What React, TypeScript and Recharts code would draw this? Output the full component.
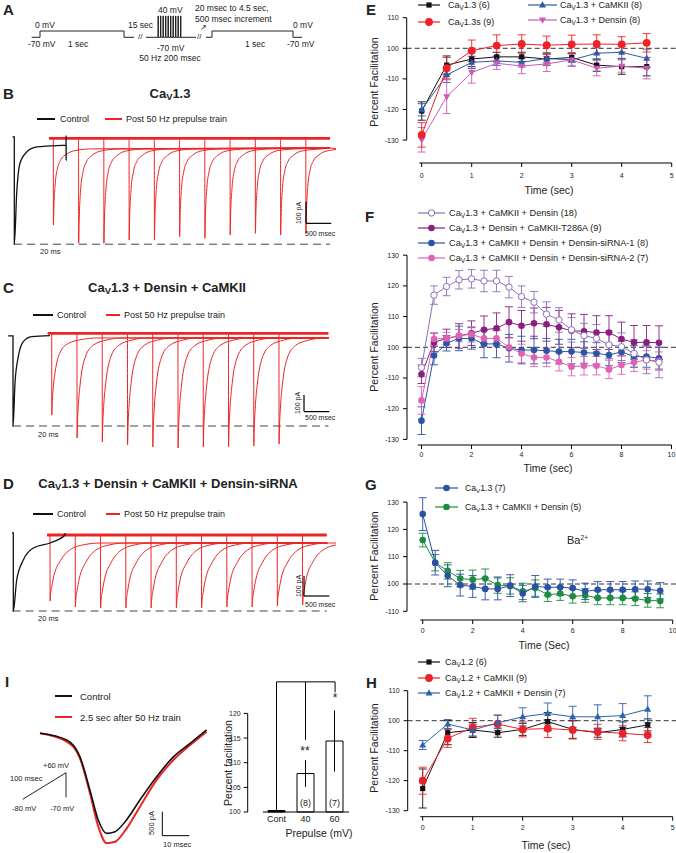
import React from "react";
import { LineChart, Line, XAxis, YAxis, ReferenceLine, ErrorBar, BarChart, Bar, Cell, LabelList } from "recharts";

const FONT = '"Liberation Sans", Arial, Helvetica, sans-serif';
const RED = "#ee2424";

// ---------- A: protocol (schematic units; level 0 = -70 mV, 1 = 0 mV, pulses = 40 mV)
const protoStepX = [0, 8.3, 8.3, 92.3, 92.3, 102.3];
const protoStepLvl = [0, 0, 1, 1, 0, 0];
const protoTrainX = [114.3, 164.3];
const protoPulses = [126.3, 128.8, 131.3, 133.8, 136.3, 138.8, 141.3, 143.8, 146.3, 148.8];
const protoPulseLvl = 3.38;
const protoTestX = [174.3, 180.3, 180.3, 261.3, 261.3, 270.3];
const protoTestLvl = [0, 0, 1, 1, 0, 0];

// ---------- B-D: current traces (ms, pA)
const onsetsB = [20, 520, 1020, 1520, 2020, 2520, 3020, 3520, 4020, 4520, 5020];
const peaksB = [-400, -484, -484, -469, -469, -453, -461, -446, -438, -446, -438];
const recTB = [10, 40, 85, 150, 260, 450, 800];
const recFB = [0.8, 0.45, 0.26, 0.15, 0.08, 0.03, 0.01];
const ctlTB = [-0.7, 0, 0.01, 0.92, 2.19, 4.77, 8.6, 13.7, 19.9, 19.92, 19.94, 19.96];
const ctlIB = [7, 7, -488, -253, -115, -63, -40, -35, -31, 12, -100, -31];

const onsetsC = [20, 520, 1020, 1520, 2020, 2520, 3020, 3520, 4020, 4520];
const peaksC = [-490, -627, -651, -669, -681, -687, -681, -681, -675, -663];
const recTC = [10, 30, 66, 165, 330, 593, 900];
const recFC = [0.85, 0.65, 0.45, 0.19, 0.07, 0.02, 0];
const ctlTC = [-1.9, 0, 0.01, 0.77, 2.04, 3.96, 7.2, 14.2];
const ctlIC = [-16, -16, -555, -297, -140, -50, -20, -14];

const onsetsD = [20, 520, 1020, 1520, 2020, 2520, 3020, 3520, 4020, 4520, 5020];
const peaksD = [-330, -360, -365, -365, -365, -365, -365, -360, -360, -355, -350];
const recTD = [10, 35, 79, 211, 409, 672, 1000];
const recFD = [0.9, 0.75, 0.56, 0.3, 0.11, 0.03, 0];
const ctlTD = [-0.5, 0, 0.01, 1.3, 3.85, 7.7, 14.1, 19.9, 19.95];
const ctlID = [10, 10, -380, -225, -125, -65, -40, 0, 10];

// ---------- I: ramp currents (ms, pA) and ramp protocol (ms, mV)
const rampCurT = [0, 9.9, 14.8, 18.5, 21.6, 24.7, 27.8, 32.1, 37, 43.2, 49.4, 55.6, 61.7];
const rampCtl = [0, -140, -488, -1185, -1810, -2085, -2050, -1800, -1390, -905, -490, -210, 70];
const rampPost = [0, -175, -520, -1245, -1945, -2290, -2260, -1980, -1530, -970, -555, -245, 35];
const rampProtoT = [0, 100, 100];
const rampProtoV = [-80, 60, -70];

const prepulseCats = ["Cont", "40", "60"];
const prepulseVals = [100.3, 107.8, 114.4];
const prepulseErr = [0, 2.7, 6.2];
const prepulseN = ["", "(8)", "(7)"];

// ---------- E-H: percent facilitation vs time
const T5 = [0, 0.5, 1, 1.5, 2, 2.5, 3, 3.5, 4, 4.5];
const T10 = [0, 0.5, 1, 1.5, 2, 2.5, 3, 3.5, 4, 4.5, 5, 5.5, 6, 6.5, 7, 7.5, 8, 8.5, 9, 9.5];

const eCav13 = [79.5, 94.5, 96.5, 97.2, 97.2, 96.5, 97, 94.5, 94, 94];
const eCav13Err = [3, 3, 2.5, 1.5, 1.5, 2, 1.5, 2, 2.5, 3];
const eCav13s = [71.7, 93.5, 99.2, 100.9, 101.4, 101, 101.3, 101.4, 101.3, 101.8];
const eCav13sErr = [4, 3.5, 3.5, 3.5, 3, 3, 3, 3, 2.5, 3];
const eCamk = [79.9, 91.3, 95.4, 95.9, 95.4, 96.7, 96.2, 98.4, 98.7, 96.7];
const eCamkErr = [2, 2.5, 2, 1.5, 1.5, 1.5, 2, 2, 2, 3];
const eDensin = [70.1, 84.2, 92.1, 95.1, 94.2, 94.9, 96.2, 93.5, 94.2, 93.5];
const eDensinErr = [4, 5.5, 3.5, 2, 2.5, 2.5, 2, 2.5, 2, 3.5];

const fOpen = [93.4, 117, 119.8, 122, 122.3, 121.6, 121.6, 119.6, 116.5, 114.7, 110.8, 108.9, 105.7, 103.8, 102.9, 100.8, 100.2, 98, 95.9, 95.1];
const fOpenErr = [3, 3, 3, 3, 3, 3.5, 3.5, 3.5, 3.5, 3.5, 4, 4, 4, 4, 4.5, 4.5, 4.5, 4.5, 4.5, 5];
const fT286A = [91.2, 101.6, 102.9, 103.7, 104.6, 105.7, 106.2, 108.2, 107, 107.8, 107.5, 106.5, 105.4, 105.2, 104.8, 104.8, 102.7, 101.6, 101.6, 101.5];
const fT286AErr = [3, 3, 3, 4, 4, 4.5, 5, 5, 5, 5, 5.5, 5.5, 5.5, 5.5, 5.5, 5.5, 5.5, 5.5, 5.5, 5.5];
const fSi1 = [76.1, 97.3, 101.3, 102.9, 102.9, 101.1, 101.1, 99.7, 99.1, 99.1, 98.9, 98.6, 98.6, 98.3, 98, 97.5, 98.5, 97, 97, 96.4];
const fSi1Err = [4.5, 3, 2.5, 4, 3.5, 4.5, 4.5, 4.5, 4.5, 4.5, 4, 4, 4, 3.5, 3.5, 3.5, 3.5, 3.5, 3.5, 3.5];
const fSi2 = [82.7, 102.7, 102.9, 103.8, 104.2, 102.9, 102.9, 100, 98, 96.7, 96.7, 95.3, 93.7, 94, 94, 92.8, 94.2, 95.1, 95.9, 95.5];
const fSi2Err = [4.5, 2, 2, 2, 2.5, 2.5, 2.5, 3, 3, 3, 3, 3, 3, 3, 3, 3, 3, 3, 3, 3];

const gCav13 = [125.6, 107.8, 103, 99.6, 99.1, 98.2, 98.2, 99.4, 96.5, 99.1, 98.8, 98.8, 98.5, 97.3, 97.9, 97.9, 97.9, 98.1, 98.1, 97.5];
const gCav13Err = [6, 4.5, 4, 4, 4, 4, 4, 4, 3, 4, 3, 3, 3, 3, 3, 3, 3, 3, 3, 3];
const gDensin = [116.1, 107.8, 104.8, 102, 101.6, 102, 99.6, 99.3, 97.3, 98.5, 96.1, 96.5, 95.5, 95.8, 94.9, 94.9, 94.9, 94.6, 94, 93.8];
const gDensinErr = [2.5, 3, 3, 3, 3.5, 3.5, 3, 3, 3, 3, 2.5, 2.5, 2.5, 2.5, 2.5, 2.5, 2.5, 2.5, 2.5, 2.5];

const hCav12 = [77.4, 96, 96.9, 96, 97.1, 99.7, 97.1, 96, 97.1, 98.6];
const hCav12Err = [6.5, 4, 2.5, 1.5, 2, 3, 3, 1.5, 2.5, 2];
const hCamk = [80, 94.1, 97.8, 98.9, 97.1, 97.4, 96.9, 96.3, 95.8, 95.2];
const hCamkErr = [4.5, 3, 3, 3, 2.5, 3, 3, 2.5, 2.5, 2.5];
const hDensin = [91.9, 98.9, 96.9, 99.3, 101.3, 102.4, 101.3, 101.3, 101.7, 103.8];
const hDensinErr = [1.5, 1.5, 2, 2.5, 3, 3.5, 3.5, 4, 4, 4.5];

// domain that puts `val` at pixel `at` of a box [lo, lo+len], k px per unit
const span = (lo: number, len: number, at: number, val: number, k: number): [number, number] => [
  val - (at - lo) / k,
  val + (lo + len - at) / k,
];
// same for a vertical axis (pixels grow downward)
const spanY = (top: number, len: number, at: number, val: number, k: number): [number, number] => [
  val - (top + len - at) / k,
  val + (at - top) / k,
];

const facTick = (v: number) => (v < 100 ? `-${200 - v}` : `${v}`);

type Shape = "square" | "circle" | "open" | "tri" | "triDown" | "dot";

function Mark({ shape, cx, cy, color }: { shape?: Shape; cx: number; cy: number; color: string }) {
  if (cx == null || cy == null || !shape) return null;
  if (shape === "square") return <rect x={cx - 2.6} y={cy - 2.6} width={5.2} height={5.2} fill={color} />;
  if (shape === "tri")
    return <polygon points={`${cx},${cy - 3.8} ${cx - 3.5},${cy + 2.4} ${cx + 3.5},${cy + 2.4}`} fill={color} />;
  if (shape === "triDown")
    return <polygon points={`${cx},${cy + 3.8} ${cx - 3.5},${cy - 2.4} ${cx + 3.5},${cy - 2.4}`} fill={color} />;
  if (shape === "open") return <circle cx={cx} cy={cy} r={3.2} fill="#fff" stroke={color} strokeWidth={1} />;
  return <circle cx={cx} cy={cy} r={shape === "circle" ? 3.9 : 3.3} fill={color} />;
}

function T({ x, y, s = 9, b, a = "start", r, children }: any) {
  const tx = a === "middle" ? "-50%" : a === "end" ? "-100%" : "0";
  return (
    <div
      style={{
        position: "absolute",
        left: x,
        top: y,
        fontSize: s,
        fontWeight: b ? 700 : 400,
        whiteSpace: "nowrap",
        lineHeight: 1,
        transform: r ? `translate(-50%,-50%) rotate(${r}deg)` : `translate(${tx},-50%)`,
      }}
    >
      {children}
    </div>
  );
}

const V = () => <span style={{ fontSize: "0.72em", verticalAlign: "-0.3em", lineHeight: 0 }}>V</span>;

function Key({ x, y, color, shape, w = 24, gap = 6, s = 9, lw = 1.2, children }: any) {
  return (
    <div style={{ position: "absolute", left: x, top: y - 7, height: 14, display: "flex", alignItems: "center", fontSize: s, whiteSpace: "nowrap" }}>
      <svg width={w} height={14} style={{ marginRight: gap, flex: "none" }}>
        <line x1={0} x2={w} y1={7} y2={7} stroke={color} strokeWidth={lw} />
        <Mark shape={shape} cx={w / 2} cy={7} color={color} />
      </svg>
      <span>{children}</span>
    </div>
  );
}

function sweeps(onsets: number[], peaks: number[], steady: number, recT: number[], recF: number[], t0: number, t1: number) {
  return onsets.map((on, k) => {
    const pk = peaks[k];
    return [
      { t: t0, i: 0 },
      { t: on, i: 0 },
      { t: on + 2, i: pk },
      ...recT.map((d, j) => ({ t: on + d, i: steady + (pk - steady) * recF[j] })),
      { t: t1, i: steady },
    ];
  });
}

function TracePanel({ c }: { c: any }) {
  const W = 336;
  const xMain = span(0, W, c.spikePx, 20, 0.0505);
  const xCtl = span(0, W, c.ctlPx, 0, 2.6);
  const yPa = spanY(c.top, c.height, c.basePx, 0, c.kPa);
  const sw = sweeps(c.onsets, c.peaks, c.steady, c.recT, c.recF, c.t0, c.t1);
  const ctl = c.ctlT.map((t: number, k: number) => ({ t, i: c.ctlI[k] }));
  const band = [{ t: c.t0, i: 0 }, { t: c.t1, i: 0 }];
  return (
    <div style={{ position: "absolute", left: 0, top: c.top }}>
      <LineChart width={W} height={c.height} margin={{ top: 0, right: 0, bottom: 0, left: 0 }}>
        <XAxis xAxisId="main" type="number" dataKey="t" domain={xMain} hide allowDataOverflow />
        <XAxis xAxisId="ctl" type="number" dataKey="t" domain={xCtl} hide allowDataOverflow />
        <YAxis yAxisId="pa" type="number" domain={yPa} hide allowDataOverflow />
        <ReferenceLine xAxisId="main" yAxisId="pa" segment={[{ x: c.dashFrom, y: c.dash }, { x: c.t1, y: c.dash }]} stroke="#444" strokeDasharray="8 5" ifOverflow="visible" />
        <Line xAxisId="main" yAxisId="pa" data={band} dataKey="i" stroke={RED} strokeWidth={2.8} dot={false} activeDot={false} isAnimationActive={false} />
        {sw.map((d, k) => (
          <Line key={k} xAxisId="main" yAxisId="pa" data={d} dataKey="i" type="monotone" stroke={RED} strokeWidth={1} dot={false} activeDot={false} isAnimationActive={false} />
        ))}
        <Line xAxisId="ctl" yAxisId="pa" data={ctl} dataKey="i" type="monotone" stroke="#111" strokeWidth={1.3} dot={false} activeDot={false} isAnimationActive={false} />
        <ReferenceLine xAxisId="main" yAxisId="pa" segment={[{ x: c.barT, y: c.barI }, { x: c.barT, y: c.barI + 100 }]} stroke="#000" strokeWidth={1.2} ifOverflow="visible" />
        <ReferenceLine xAxisId="main" yAxisId="pa" segment={[{ x: c.barT, y: c.barI }, { x: c.barT + 500, y: c.barI }]} stroke="#000" strokeWidth={1.2} ifOverflow="visible" />
      </LineChart>
    </div>
  );
}

const traceB = {
  top: 128, height: 122, spikePx: 53.3, ctlPx: 14.3, basePx: 138.3, kPa: 0.217,
  onsets: onsetsB, peaks: peaksB, steady: -45, recT: recTB, recF: recFB, t0: -60, t1: 5500,
  ctlT: ctlTB, ctlI: ctlIB, dash: -488, dashFrom: -758, barT: 5024, barI: -392,
};
const traceC = {
  top: 322, height: 130, spikePx: 51.7, ctlPx: 13, basePx: 333.3, kPa: 0.167,
  onsets: onsetsC, peaks: peaksC, steady: -28, recT: recTC, recF: recFC, t0: -55, t1: 5500,
  ctlT: ctlTC, ctlI: ctlIC, dash: -555, dashFrom: -746, barT: 5016, barI: -469,
};
const traceD = {
  top: 525, height: 100, spikePx: 50, ctlPx: 13.3, basePx: 535, kPa: 0.2,
  onsets: onsetsD, peaks: peaksD, steady: -40, recT: recTD, recF: recFD, t0: -35, t1: 5500,
  ctlT: ctlTD, ctlI: ctlID, dash: -380, dashFrom: -720, barT: 5050, barI: -305,
};

function ProtocolA() {
  const step = protoStepX.map((x, k) => ({ x, v: protoStepLvl[k] }));
  const train = [
    { x: protoTrainX[0], v: 0 },
    ...protoPulses.flatMap((p) => [
      { x: p, v: 0 },
      { x: p, v: protoPulseLvl },
      { x: p + 0.4, v: protoPulseLvl },
      { x: p + 0.4, v: 0 },
    ]),
    { x: protoTrainX[1], v: 0 },
  ];
  const test = protoTestX.map((x, k) => ({ x, v: protoTestLvl[k] }));
  return (
    <div style={{ position: "absolute", left: 0, top: 0 }}>
      <LineChart width={330} height={60} margin={{ top: 0, right: 0, bottom: 0, left: 0 }}>
        <XAxis type="number" dataKey="x" domain={span(0, 330, 31.7, 0, 1)} hide allowDataOverflow />
        <YAxis type="number" domain={spanY(0, 60, 37.3, 0, 6.3)} hide allowDataOverflow />
        {[step, train, test].map((d, k) => (
          <Line key={k} data={d} dataKey="v" stroke="#222" strokeWidth={1} dot={false} activeDot={false} isAnimationActive={false} />
        ))}
      </LineChart>
    </div>
  );
}

function RampI() {
  const ctl = rampCurT.map((t, k) => ({ t, i: rampCtl[k] }));
  const post = rampCurT.map((t, k) => ({ t, i: rampPost[k] }));
  const proto = rampProtoT.map((t, k) => ({ t, v: rampProtoV[k] }));
  return (
    <div style={{ position: "absolute", left: 0, top: 690 }}>
      <LineChart width={230} height={163} margin={{ top: 0, right: 0, bottom: 0, left: 0 }}>
        <XAxis xAxisId="tr" type="number" dataKey="t" domain={span(0, 230, 40, 0, 2.7)} hide allowDataOverflow />
        <YAxis yAxisId="tr" type="number" domain={spanY(690, 163, 733.3, 0, 0.048)} hide allowDataOverflow />
        <XAxis xAxisId="rp" type="number" dataKey="t" domain={span(0, 230, 22.7, 0, 0.433)} hide allowDataOverflow />
        <YAxis yAxisId="rp" type="number" domain={spanY(690, 163, 799.3, -80, 0.19)} hide allowDataOverflow />
        <Line xAxisId="tr" yAxisId="tr" data={post} dataKey="i" type="monotone" stroke={RED} strokeWidth={2} dot={false} activeDot={false} isAnimationActive={false} />
        <Line xAxisId="tr" yAxisId="tr" data={ctl} dataKey="i" type="monotone" stroke="#111" strokeWidth={1.6} dot={false} activeDot={false} isAnimationActive={false} />
        <Line xAxisId="rp" yAxisId="rp" data={proto} dataKey="v" stroke="#222" strokeWidth={1} dot={false} activeDot={false} isAnimationActive={false} />
        <ReferenceLine xAxisId="tr" yAxisId="tr" segment={[{ x: 45.3, y: -1633 }, { x: 45.3, y: -2133 }]} stroke="#000" ifOverflow="visible" />
        <ReferenceLine xAxisId="tr" yAxisId="tr" segment={[{ x: 45.3, y: -2133 }, { x: 55.3, y: -2133 }]} stroke="#000" ifOverflow="visible" />
      </LineChart>
    </div>
  );
}

function BarsI() {
  const rows = prepulseCats.map((c, k) => ({ x: k, v: prepulseVals[k], e: prepulseErr[k], n: prepulseN[k] }));
  const xDom = span(247.7, 107.3, 276.5, 0, 29);
  const yDom = spanY(675, 137, 812, 100, 4.93);
  return (
    <div style={{ position: "absolute", left: 215, top: 675 }}>
      <BarChart width={140} height={178} data={rows} margin={{ top: 0, right: 0, bottom: 0, left: 0 }}>
        <XAxis type="number" dataKey="x" domain={xDom} ticks={[0, 1, 2]} interval={0} tickFormatter={(v: number) => prepulseCats[v]} axisLine={false} tickLine={false} tickSize={0} tickMargin={4} tick={{ fontSize: 9, fill: "#222", fontFamily: FONT }} height={41} />
        <YAxis type="number" domain={yDom} ticks={[100, 105, 110, 115, 120]} interval={0} axisLine={false} tickSize={4} tickMargin={3} tick={{ fontSize: 7, fill: "#222", fontFamily: FONT }} tickLine={{ stroke: "#000" }} width={32.7} />
        <ReferenceLine segment={[{ x: xDom[0], y: 100 }, { x: xDom[0], y: 120 }]} stroke="#000" ifOverflow="visible" />
        <ReferenceLine segment={[{ x: -0.47, y: 100 }, { x: 2.5, y: 100 }]} stroke="#000" ifOverflow="visible" />
        <ReferenceLine segment={[{ x: 0, y: 126.4 }, { x: 2.02, y: 126.4 }]} stroke="#000" ifOverflow="visible" />
        <ReferenceLine segment={[{ x: 0, y: 126.4 }, { x: 0, y: 100.4 }]} stroke="#000" ifOverflow="visible" />
        <ReferenceLine segment={[{ x: 1, y: 126.4 }, { x: 1, y: 114.6 }]} stroke="#000" ifOverflow="visible" />
        <ReferenceLine segment={[{ x: 2.02, y: 126.4 }, { x: 2.02, y: 124.3 }]} stroke="#000" ifOverflow="visible" />
        <Bar dataKey="v" barSize={17} fill="#fff" stroke="#000" strokeWidth={1} isAnimationActive={false}>
          {rows.map((r, k) => (
            <Cell key={k} fill={k === 0 ? "#000" : "#fff"} />
          ))}
          <ErrorBar dataKey="e" width={0} stroke="#000" strokeWidth={1} direction="y" />
          <LabelList dataKey="n" position="insideBottom" offset={6} style={{ fontSize: 9, fill: "#222", fontFamily: FONT }} />
        </Bar>
      </BarChart>
    </div>
  );
}

type Series = { key: string; values: number[]; err: number[]; color: string; shape: Shape };

function FacPanel({ p }: { p: any }) {
  const plotW = 676 - p.left;
  const plotH = p.bottom - p.top;
  const xDom = span(p.left, plotW, p.x0, 0, p.kx);
  const yDom = spanY(p.top, plotH, p.y100, 100, p.ky);
  const rows = p.times.map((t: number, k: number) => {
    const r: Record<string, number> = { t };
    p.series.forEach((s: Series) => {
      r[s.key] = s.values[k];
      r[s.key + "E"] = s.err[k];
    });
    return r;
  });
  const xEnd = p.xTicks[p.xTicks.length - 1];
  const tickStyle = { fontSize: 7, fill: "#222", fontFamily: FONT };
  return (
    <div style={{ position: "absolute", left: 330, top: p.top }}>
      <LineChart width={346} height={p.total} data={rows} margin={{ top: 0, right: 0, bottom: 0, left: 0 }}>
        <XAxis type="number" dataKey="t" domain={xDom} ticks={p.xTicks} interval={0} axisLine={false} tickSize={4} tickMargin={p.tm} tick={tickStyle} tickLine={{ stroke: "#000" }} height={p.total - plotH} />
        <YAxis type="number" domain={yDom} ticks={p.yTicks} interval={0} axisLine={false} tickSize={4} tickMargin={4} tickFormatter={facTick} tick={tickStyle} tickLine={{ stroke: "#000" }} width={p.left - 330} />
        <ReferenceLine y={100} stroke="#333" strokeDasharray="5 3" />
        <ReferenceLine segment={[{ x: xDom[0], y: p.yTicks[0] }, { x: xDom[0], y: p.yTicks[p.yTicks.length - 1] }]} stroke="#000" ifOverflow="visible" />
        <ReferenceLine segment={[{ x: p.xStart, y: yDom[0] }, { x: xEnd, y: yDom[0] }]} stroke="#000" ifOverflow="visible" />
        {p.series.map((s: Series) => (
          <Line
            key={s.key}
            dataKey={s.key}
            stroke={s.color}
            strokeWidth={1}
            isAnimationActive={false}
            activeDot={false}
            dot={(d: any) => <Mark key={`${s.key}-${d.index}`} shape={s.shape} cx={d.cx} cy={d.cy} color={s.color} />}
          >
            <ErrorBar dataKey={s.key + "E"} width={4} stroke={s.color} strokeWidth={0.9} direction="y" />
          </Line>
        ))}
      </LineChart>
    </div>
  );
}

const facE = {
  top: 10, bottom: 163, left: 406.7, total: 190, x0: 421.7, kx: 50, y100: 48.3, ky: 3.06, tm: 6, xStart: -0.05,
  xTicks: [0, 1, 2, 3, 4, 5], yTicks: [70, 80, 90, 100, 110], times: T5,
  series: [
    { key: "cav13", values: eCav13, err: eCav13Err, color: "#111", shape: "square" },
    { key: "camk", values: eCamk, err: eCamkErr, color: "#2d5aa8", shape: "tri" },
    { key: "densin", values: eDensin, err: eDensinErr, color: "#cc5ab8", shape: "triDown" },
    { key: "cav13s", values: eCav13s, err: eCav13sErr, color: "#ee2228", shape: "circle" },
  ],
};
const facF = {
  top: 250, bottom: 445, left: 407, total: 230, x0: 421.5, kx: 25, y100: 347.3, ky: 3.07, tm: 3, xStart: -0.15,
  xTicks: [0, 2, 4, 6, 8, 10], yTicks: [70, 80, 90, 100, 110, 120, 130], times: T10,
  series: [
    { key: "t286a", values: fT286A, err: fT286AErr, color: "#8b1f7e", shape: "dot" },
    { key: "si1", values: fSi1, err: fSi1Err, color: "#2b55a5", shape: "dot" },
    { key: "si2", values: fSi2, err: fSi2Err, color: "#df62b4", shape: "dot" },
    { key: "open", values: fOpen, err: fOpenErr, color: "#8a72b8", shape: "open" },
  ],
};
const facG = {
  top: 490, bottom: 620, left: 407, total: 165, x0: 422.7, kx: 25, y100: 584, ky: 2.73, tm: 4, xStart: -0.1,
  xTicks: [0, 2, 4, 6, 8, 10], yTicks: [90, 100, 110, 120, 130], times: T10,
  series: [
    { key: "gd", values: gDensin, err: gDensinErr, color: "#1c8c3e", shape: "dot" },
    { key: "gc", values: gCav13, err: gCav13Err, color: "#2c50a4", shape: "dot" },
  ],
};
const facH = {
  top: 685, bottom: 816.7, left: 407.7, total: 168, x0: 422.7, kx: 50, y100: 720.7, ky: 3.0, tm: 4, xStart: -0.05,
  xTicks: [0, 1, 2, 3, 4, 5], yTicks: [70, 80, 90, 100, 110], times: T5,
  series: [
    { key: "h12", values: hCav12, err: hCav12Err, color: "#111", shape: "square" },
    { key: "hcam", values: hCamk, err: hCamkErr, color: "#ea2229", shape: "circle" },
    { key: "hden", values: hDensin, err: hDensinErr, color: "#2d63ad", shape: "tri" },
  ],
};

export default function App() {
  return (
    <div style={{ position: "relative", width: 676, height: 853, fontFamily: FONT, color: "#222", background: "#fff", overflow: "hidden" }}>
      <style>{`body{margin:0}`}</style>

      {/* A */}
      <ProtocolA />
      <T x={3} y={9} s={15} b>A</T>
      <T x={35} y={25} s={8.5}>0 mV</T>
      <T x={28} y={44} s={8.5}>-70 mV</T>
      <T x={68} y={44} s={8.5}>1 sec</T>
      <T x={128} y={25} s={8.5}>15 sec</T>
      <T x={138} y={37} s={8}>//</T>
      <T x={158} y={9.5} s={8.5}>40 mV</T>
      <T x={157} y={48} s={8.5}>-70 mV</T>
      <T x={170} y={58} s={8.5} a="middle">50 Hz 200 msec</T>
      <T x={197} y={37} s={8}>//</T>
      <T x={200} y={28} s={8}>↗</T>
      <T x={195} y={8} s={8.5}>20 msec to 4.5 sec,</T>
      <T x={195} y={19} s={8.5}>500 msec increment</T>
      <T x={293} y={25} s={8.5}>0 mV</T>
      <T x={245} y={44} s={8.5}>1 sec</T>
      <T x={287} y={44} s={8.5}>-70 mV</T>

      {/* B */}
      <TracePanel c={traceB} />
      <T x={3} y={93} s={15} b>B</T>
      <T x={170} y={93} s={13} b a="middle">Ca<V />1.3</T>
      <Key x={37} y={119} color="#111" w={18} gap={5} lw={2}>Control</Key>
      <Key x={105} y={119} color={RED} w={17} gap={4} lw={2}>Post 50 Hz prepulse train</Key>
      <T x={40} y={252} s={7.5}>20 ms</T>
      <T x={298} y={213} s={7} r={-90}>100 pA</T>
      <T x={305} y={233} s={7}>500 msec</T>

      {/* C */}
      <TracePanel c={traceC} />
      <T x={3} y={287} s={15} b>C</T>
      <T x={167} y={287} s={13} b a="middle">Ca<V />1.3 + Densin + CaMKII</T>
      <Key x={33} y={315} color="#111" w={20} gap={4} lw={2}>Control</Key>
      <Key x={106} y={315} color={RED} w={14} gap={4} lw={2}>Post 50 Hz prepulse train</Key>
      <T x={38} y={435} s={7.5}>20 ms</T>
      <T x={297} y={403} s={7} r={-90}>100 pA</T>
      <T x={305} y={417} s={7}>500 msec</T>

      {/* D */}
      <TracePanel c={traceD} />
      <T x={3} y={483} s={15} b>D</T>
      <T x={168} y={483} s={13} b a="middle">Ca<V />1.3 + Densin + CaMKII + Densin-siRNA</T>
      <Key x={33} y={514} color="#111" w={20} gap={4} lw={2}>Control</Key>
      <Key x={106} y={514} color={RED} w={14} gap={4} lw={2}>Post 50 Hz prepulse train</Key>
      <T x={38} y={619} s={7.5}>20 ms</T>
      <T x={298} y={586} s={7} r={-90}>100 pA</T>
      <T x={305} y={604} s={7}>500 msec</T>

      {/* I */}
      <RampI />
      <BarsI />
      <T x={5} y={681} s={15} b>I</T>
      <Key x={55} y={696} color="#111" w={17} gap={8} lw={2} s={9.5}>Control</Key>
      <Key x={55} y={717} color={RED} w={17} gap={8} lw={2} s={9.5}>2.5 sec after 50 Hz train</Key>
      <T x={43} y={766} s={7.5}>+60 mV</T>
      <T x={10} y={779} s={7.5}>100 msec</T>
      <T x={12} y={809} s={7.5}>-80 mV</T>
      <T x={50} y={809} s={7.5}>-70 mV</T>
      <T x={152} y={823} s={7.5} r={-90}>500 pA</T>
      <T x={163} y={845} s={7.5}>10 msec</T>
      <T x={228} y={763} s={10.5} r={-90}>Percent facilitation</T>
      <T x={319} y={833} s={10.5} a="middle">Prepulse (mV)</T>
      <T x={305} y={751} s={12} a="middle">**</T>
      <T x={335} y={698} s={12} a="middle">*</T>

      {/* E */}
      <FacPanel p={facE} />
      <T x={366} y={9} s={15} b>E</T>
      <Key x={418} y={5} color="#111" shape="square" w={22} gap={8}>Ca<V />1.3 (6)</Key>
      <Key x={418} y={22} color="#ee2228" shape="circle" w={22} gap={8}>Ca<V />1.3s (9)</Key>
      <Key x={528} y={5} color="#2d5aa8" shape="tri" w={29} gap={3}>Ca<V />1.3 + CaMKII (8)</Key>
      <Key x={528} y={20} color="#cc5ab8" shape="triDown" w={29} gap={3}>Ca<V />1.3 + Densin (8)</Key>
      <T x={373.5} y={82} s={10.5} r={-90}>Percent Facilitation</T>
      <T x={549} y={190} s={10.5} a="middle">Time (sec)</T>

      {/* F */}
      <FacPanel p={facF} />
      <T x={365} y={216} s={15} b>F</T>
      <Key x={418} y={213} color="#8a72b8" shape="open" w={27} gap={4} s={9.2}>Ca<V />1.3 + CaMKII + Densin (18)</Key>
      <Key x={418} y={228} color="#8b1f7e" shape="dot" w={27} gap={4} s={9.2}>Ca<V />1.3 + Densin + CaMKII-T286A (9)</Key>
      <Key x={418} y={243} color="#2b55a5" shape="dot" w={27} gap={4} s={9.2}>Ca<V />1.3 + CaMKII + Densin + Densin-siRNA-1 (8)</Key>
      <Key x={418} y={258} color="#df62b4" shape="dot" w={27} gap={4} s={9.2}>Ca<V />1.3 + CaMKII + Densin + Densin-siRNA-2 (7)</Key>
      <T x={373.5} y={347} s={10.5} r={-90}>Percent Facilitation</T>
      <T x={548} y={468} s={10.5} a="middle">Time (sec)</T>

      {/* G */}
      <FacPanel p={facG} />
      <T x={365} y={484} s={15} b>G</T>
      <Key x={435} y={488} color="#2c50a4" shape="dot" w={23} gap={7} s={8.7}>Ca<V />1.3 (7)</Key>
      <Key x={435} y={507} color="#1c8c3e" shape="dot" w={23} gap={7} s={8.7}>Ca<V />1.3 + CaMKII + Densin (5)</Key>
      <T x={567} y={540} s={11}>Ba<span style={{ fontSize: "0.6em", verticalAlign: "0.6em", lineHeight: 0 }}>2+</span></T>
      <T x={373.5} y={556} s={10.5} r={-90}>Percent Facilitation</T>
      <T x={544} y={645} s={10.5} a="middle">Time (Sec)</T>

      {/* H */}
      <FacPanel p={facH} />
      <T x={366} y={682} s={15} b>H</T>
      <Key x={418} y={662} color="#111" shape="square" w={22} gap={5}>Ca<V />1.2 (6)</Key>
      <Key x={418} y={678} color="#ea2229" shape="circle" w={22} gap={5}>Ca<V />1.2 + CaMKII (9)</Key>
      <Key x={418} y={693} color="#2d63ad" shape="tri" w={22} gap={5}>Ca<V />1.2 + CaMKII + Densin (7)</Key>
      <T x={373.5} y={748} s={10.5} r={-90}>Percent Facilitation</T>
      <T x={546} y={845} s={10.5} a="middle">Time (sec)</T>
    </div>
  );
}
